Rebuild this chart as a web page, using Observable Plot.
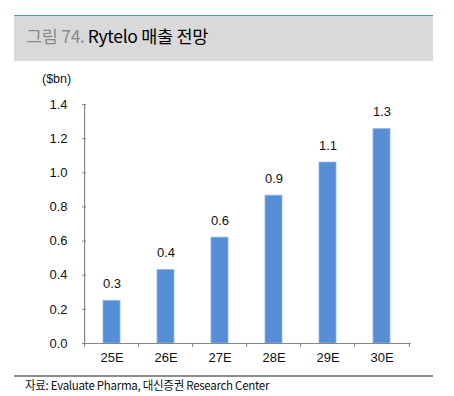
<!DOCTYPE html>
<html>
<head>
<meta charset="utf-8">
<script src="https://cdn.jsdelivr.net/npm/d3@7"></script>
<script src="https://cdn.jsdelivr.net/npm/@observablehq/plot@0.6"></script>
<style>
  html, body { margin: 0; padding: 0; background: #fff; }
  #wrap { position: relative; width: 454px; height: 396px; overflow: hidden; font-family: "Liberation Sans", Arial, sans-serif; }
  #band { position: absolute; left: 14px; top: 15px; width: 419px; height: 46px; background: #d9d9d9; border-top: 1.5px solid #558ed5; box-sizing: border-box; }
  #title { position: absolute; left: 12px; top: 10px; font-family: "Noto Sans CJK KR", sans-serif; font-size: 17.5px; font-weight: normal; line-height: 20px; color: #000; letter-spacing: -0.3px; white-space: nowrap; }
  #title .num { color: #8a8a8a; margin-right: 3px; }
  #unit { position: absolute; left: 42px; top: 72px; font-size: 12.5px; color: #111; }
  #chart { position: absolute; left: 0; top: 70px; }
  #footline { position: absolute; left: 14px; top: 375px; width: 419px; height: 2px; background: #8c8c8c; }
  #caption { position: absolute; left: 25px; top: 378px; font-family: "Noto Sans CJK KR", sans-serif; font-size: 12px; line-height: 14px; color: #111; white-space: nowrap; letter-spacing: -0.3px; transform: scaleX(0.96); transform-origin: left top; }
</style>
</head>
<body>
<div id="wrap">
  <div id="band"><div id="title"><span class="num">그림 74.</span>Rytelo 매출 전망</div></div>
  <div id="unit">($bn)</div>
  <div id="chart"></div>
  <div id="footline"></div>
  <div id="caption">자료: Evaluate Pharma, 대신증권 Research Center</div>
</div>
<script>
const categories = ["25E", "26E", "27E", "28E", "29E", "30E"];
const sales = [0.25, 0.43, 0.62, 0.866, 1.06, 1.256];
const valueLabels = ["0.3", "0.4", "0.6", "0.9", "1.1", "1.3"];
const yTicks = [0, 0.2, 0.4, 0.6, 0.8, 1.0, 1.2, 1.4];

const data = categories.map((c, i) => ({cat: c, val: sales[i], label: valueLabels[i]}));

const W = 454, H = 300, mL = 82, mR = 43;
const halfStep = (W - mL - mR) / categories.length / 2;
const axisColor = "#868686";

const chart = Plot.plot({
  width: W,
  height: H,
  marginLeft: mL,
  marginRight: mR,
  marginTop: 34,
  marginBottom: 27,
  style: {fontFamily: "Liberation Sans, Arial, sans-serif", fontSize: "13px", color: "#111", background: "transparent"},
  x: {domain: categories, paddingInner: 0.68, paddingOuter: 0.34, axis: null, label: null},
  y: {domain: [0, 1.4], axis: null, label: null},
  marks: [
    Plot.barY(data, {x: "cat", y: "val", fill: "#558ed5", stroke: "#8fb4e6", strokeWidth: 0.8}),
    Plot.text(data, {x: "cat", y: "val", text: "label", dy: -17, fontSize: 13, fill: "#111"}),
    // axis lines
    Plot.ruleY([0], {stroke: axisColor, strokeWidth: 1.2}),
    Plot.ruleX([categories[0]], {x: d => d, y1: 0, y2: 1.4, dx: -halfStep, stroke: axisColor, strokeWidth: 1.2}),
    // y ticks (inward) and labels
    Plot.axisY({ticks: yTicks, tickSize: 4, text: null, dx: 4, stroke: axisColor, label: null}),
    Plot.axisY({ticks: yTicks, tickSize: 0, tickPadding: 15, tickFormat: d3.format(".1f"), fontSize: 13, fill: "#111", label: null}),
    // x boundary ticks and labels
    Plot.axisX({ticks: categories, tickSize: 4, text: null, dx: -halfStep, stroke: axisColor, label: null}),
    Plot.axisX({ticks: [categories[categories.length - 1]], tickSize: 4, text: null, dx: halfStep, stroke: axisColor, label: null}),
    Plot.axisX({ticks: categories, tickSize: 0, tickPadding: 9, fontSize: 13, fill: "#111", label: null})
  ]
});
document.getElementById("chart").appendChild(chart);
</script>
</body>
</html>
